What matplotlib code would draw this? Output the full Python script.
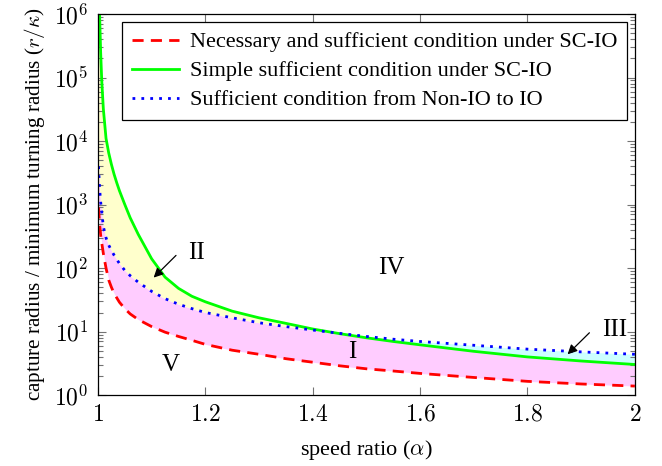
import numpy as np
import matplotlib
matplotlib.use("Agg")
import matplotlib.pyplot as plt
from matplotlib.ticker import FixedLocator, FixedFormatter, LogLocator, NullFormatter

# values (speed ratio alpha vs r/kappa, log scale)
alpha = [1.001, 1.003, 1.005, 1.007, 1.010, 1.015, 1.020, 1.025, 1.030, 1.035,
         1.040, 1.050, 1.060, 1.075, 1.10, 1.125, 1.15, 1.175, 1.20, 1.25,
         1.30, 1.35, 1.40, 1.45, 1.50, 1.55, 1.60, 1.70, 1.80, 1.90, 2.00]

nec_suff = [900, 500, 330, 250, 170, 100, 65, 50, 40, 34,
            29, 23, 19, 15.5, 12, 9.8, 8.4, 7.3, 6.3, 5.1,
            4.4, 3.75, 3.3, 2.9, 2.6, 2.4, 2.2, 1.9, 1.65, 1.5, 1.39]

simple_suff = [3e7, 1e6, 2.5e5, 9e4, 3.2e4, 1.1e4, 6500, 4300, 3000, 2200,
               1650, 1000, 620, 340, 140, 72, 48, 36, 29.5, 21,
               16.5, 13.5, 11.0, 9.3, 8.0, 7.0, 6.2, 4.9, 4.0, 3.45, 3.04]

nonio_to_io = [4000, 1800, 1100, 770, 450, 300, 230, 190, 160, 137,
               118, 92, 76, 60, 43, 33, 27, 23, 20, 16.5,
               13.8, 12.0, 10.6, 9.4, 8.4, 7.6, 7.0, 6.1, 5.3, 4.8, 4.4]

labels = ["Necessary and sufficient condition under SC-IO",
          "Simple sufficient condition under SC-IO",
          "Sufficient condition from Non-IO to IO"]

xticks = [1, 1.2, 1.4, 1.6, 1.8, 2]
xtick_labels = ["$1$", "$1.2$", "$1.4$", "$1.6$", "$1.8$", "$2$"]
yticks = [1e0, 1e1, 1e2, 1e3, 1e4, 1e5, 1e6]
ytick_labels = ["$10^{%d}$" % k for k in range(7)]

plt.rcParams["font.family"] = ["Liberation Serif", "DejaVu Serif"]
plt.rcParams["mathtext.fontset"] = "cm"

a = np.array(alpha)
red = np.array(nec_suff)
green = np.array(simple_suff)
blue = np.array(nonio_to_io)
low = np.minimum(green, blue)

fig = plt.figure(figsize=(6.62, 4.66), dpi=100)
ax = fig.add_axes([0.148, 0.152, 0.811, 0.818])

ax.fill_between(a, red, low, color=(1, 0.8, 1), lw=0)
ax.fill_between(a, blue, green, where=green >= blue, interpolate=True,
                color=(1, 1, 0.8), lw=0)
ax.fill_between(a, green, blue, where=blue >= green, interpolate=True,
                color=(0.8, 1, 1), lw=0)

ax.plot(a, red, color="red", ls=(0, (4, 2.6)), lw=2, label=labels[0])
ax.plot(a, green, color=(0, 1, 0), ls="-", lw=2, label=labels[1])
ax.plot(a, blue, color="blue", ls=(0, (1, 2.2)), lw=2, label=labels[2])

ax.set_yscale("log")
ax.set_xlim(1, 2)
ax.set_ylim(1, 1e6)

ax.xaxis.set_major_locator(FixedLocator(xticks))
ax.xaxis.set_major_formatter(FixedFormatter(xtick_labels))
ax.yaxis.set_major_locator(FixedLocator(yticks))
ax.yaxis.set_major_formatter(FixedFormatter(ytick_labels))
ax.yaxis.set_minor_locator(LogLocator(base=10, subs=np.arange(2, 10), numticks=20))
ax.yaxis.set_minor_formatter(NullFormatter())

ax.tick_params(which="both", direction="in", top=True, right=True,
               color="0.45", width=0.8)
ax.tick_params(which="major", length=6, labelsize=17, pad=7)
ax.tick_params(which="minor", length=3.5)
for s in ax.spines.values():
    s.set_linewidth(0.9)

ax.set_xlabel(r"speed ratio ($\alpha$)", fontsize=16, labelpad=9)
ax.set_ylabel(r"capture radius / minimum turning radius ($r/\kappa$)",
              fontsize=15.2, labelpad=5)

# region labels and arrows
ax.text(1.184, 172, "II", fontsize=18, ha="center", va="center")
ax.annotate("", xy=(1.10, 66), xytext=(1.149, 170),
            arrowprops=dict(arrowstyle="-|>", color="black", lw=0.9,
                            mutation_scale=14))
ax.text(1.547, 100, "IV", fontsize=18, ha="center", va="center")
ax.text(1.473, 4.75, "I", fontsize=18, ha="center", va="center")
ax.text(1.136, 2.97, "V", fontsize=18, ha="center", va="center")
ax.text(1.962, 10.5, "III", fontsize=18, ha="center", va="center")
ax.annotate("", xy=(1.871, 4.1), xytext=(1.919, 10.3),
            arrowprops=dict(arrowstyle="-|>", color="black", lw=0.9,
                            mutation_scale=14))

leg = ax.legend(loc="upper right", fontsize=16, fancybox=False,
                framealpha=1, edgecolor="black", handlelength=2.1,
                borderaxespad=0.35, borderpad=0.45, labelspacing=0.38,
                handletextpad=0.5)
leg.get_frame().set_linewidth(0.9)

fig.savefig("out.png", dpi=100)
plt.close(fig)
